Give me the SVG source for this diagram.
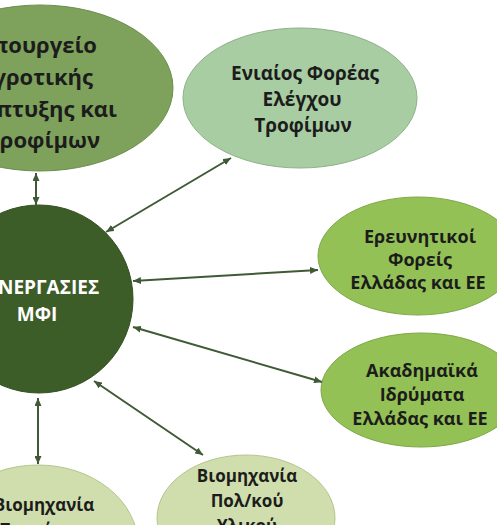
<svg xmlns="http://www.w3.org/2000/svg" width="497" height="525" viewBox="0 0 497 525">
<style>
text{font-family:"Open Sans","Noto Sans","DejaVu Sans",sans-serif;font-weight:bold;fill:#1c1c1c;text-anchor:middle}
.c text{fill:#ffffff}
.con line{stroke:#3f5a35;stroke-width:2;fill:none;marker-start:url(#ah);marker-end:url(#ah)}
</style>
<defs>
<marker id="ah" viewBox="0 0 8 7" refX="8" refY="3.5" markerWidth="8" markerHeight="7" markerUnits="userSpaceOnUse" orient="auto-start-reverse">
<path d="M0,0 L8,3.5 L0,7 z" fill="#3f5a35"/>
</marker>
</defs>
<rect width="497" height="525" fill="#ffffff"/>
<g id="ministry">
<ellipse cx="40" cy="88" rx="133" ry="83" fill="#7ea25c" stroke="#6c8f4e" stroke-width="1"/>
<text x="97" y="53" font-size="22" style="text-anchor:end">Υπουργείο</text>
<text x="93" y="85" font-size="22" style="text-anchor:end">Αγροτικής</text>
<text x="117" y="117" font-size="22" style="text-anchor:end">Ανάπτυξης και</text>
<text x="100" y="148" font-size="22" style="text-anchor:end">Τροφίμων</text>
</g>
<g id="efet">
<ellipse cx="300" cy="98" rx="117" ry="70" fill="#a9cda3" stroke="#8fb188" stroke-width="1"/>
<text x="305" y="80" font-size="19">Ενιαίος Φορέας</text>
<text x="302" y="106" font-size="19">Ελέγχου</text>
<text x="303" y="132" font-size="19">Τροφίμων</text>
</g>
<g id="center" class="c">
<circle cx="39" cy="299" r="94" fill="#3c5c28" stroke="#34511f" stroke-width="1"/>
<text x="37" y="294" font-size="19">ΣΥΝΕΡΓΑΣΙΕΣ</text>
<text x="37" y="321" font-size="19">ΜΦΙ</text>
</g>
<g id="research">
<ellipse cx="418" cy="256" rx="100" ry="59" fill="#93c155" stroke="#7fa847" stroke-width="1"/>
<text x="420" y="243" font-size="18">Ερευνητικοί</text>
<text x="420" y="266" font-size="18">Φορείς</text>
<text x="418" y="289" font-size="18">Ελλάδας και ΕΕ</text>
</g>
<g id="academic">
<ellipse cx="421" cy="390" rx="100" ry="57" fill="#93c155" stroke="#7fa847" stroke-width="1"/>
<text x="422" y="377" font-size="18">Ακαδημαϊκά</text>
<text x="422" y="401" font-size="18">Ιδρύματα</text>
<text x="420" y="425" font-size="18">Ελλάδας και ΕΕ</text>
</g>
<g id="food-industry">
<ellipse cx="38" cy="545" rx="100" ry="80" fill="#cfdeac" stroke="#b4c58f" stroke-width="1"/>
<text x="44" y="511" font-size="17">Βιομηχανία</text>
<text x="44" y="536" font-size="17">Τροφίμων</text>
</g>
<g id="propagation-industry">
<ellipse cx="246" cy="518" rx="89" ry="63" fill="#cfdeac" stroke="#b4c58f" stroke-width="1"/>
<text x="247" y="482" font-size="17">Βιομηχανία</text>
<text x="247" y="507" font-size="17">Πολ/κού</text>
<text x="247" y="532" font-size="17">Υλικού</text>
</g>
<g id="connectors" class="con">
<line x1="36" y1="173" x2="36" y2="205"/>
<line x1="106" y1="232" x2="231" y2="158"/>
<line x1="133" y1="281" x2="318" y2="270"/>
<line x1="133" y1="327" x2="322" y2="382"/>
<line x1="94" y1="381" x2="203" y2="455"/>
<line x1="38" y1="398" x2="38" y2="464"/>
</g>
</svg>
